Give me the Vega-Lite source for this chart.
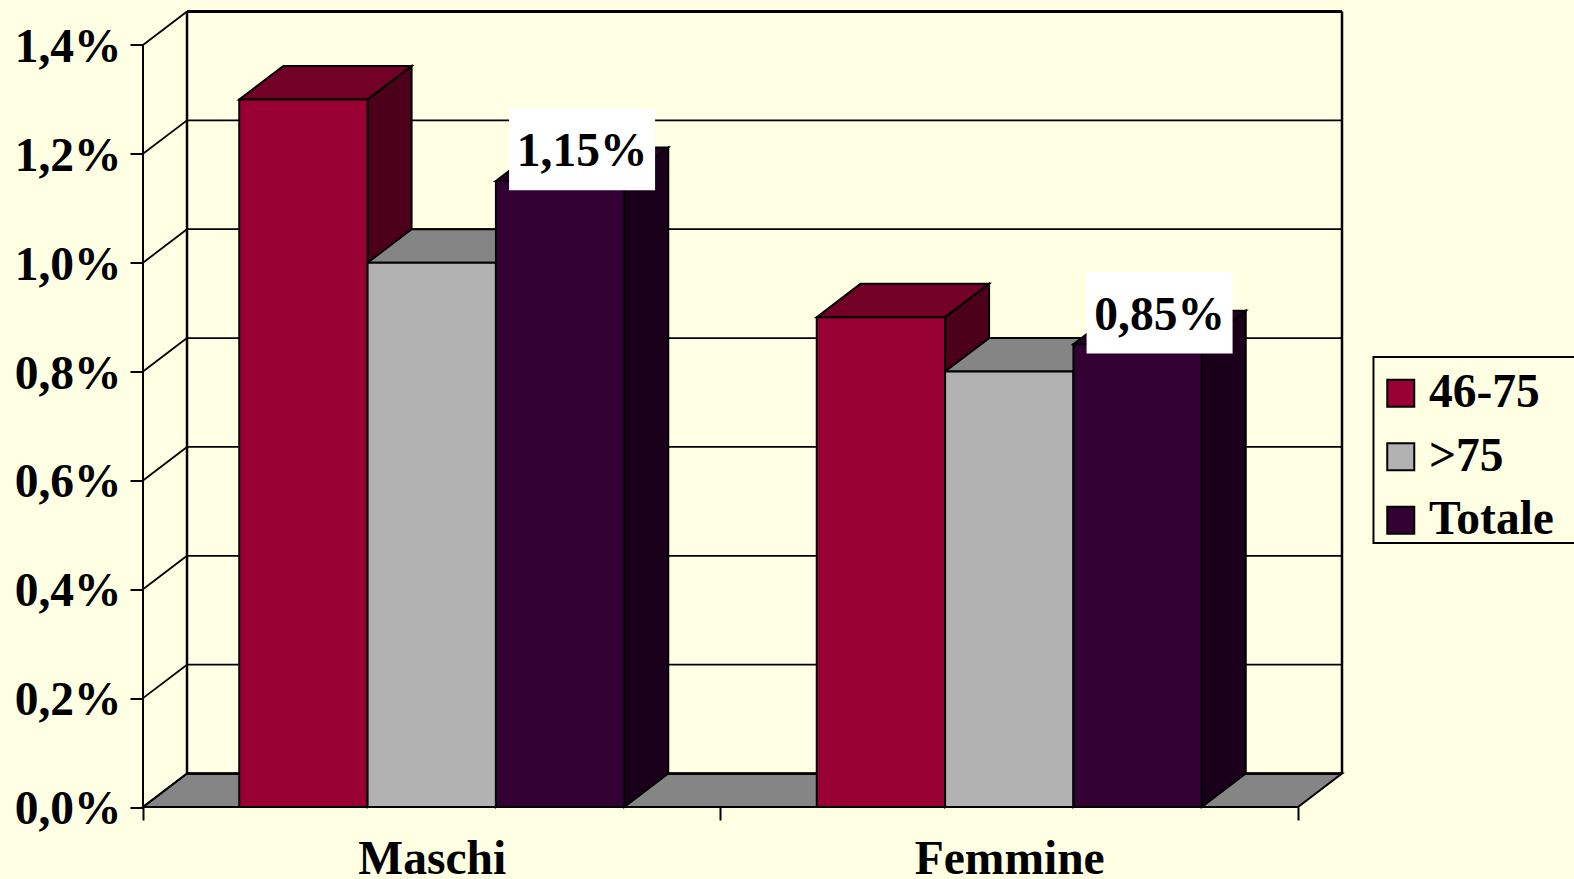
{
  "$schema": "https://vega.github.io/schema/vega-lite/v6.json",
  "width": 1199,
  "height": 795.5,
  "autosize": {"type": "none"},
  "padding": {"left": 143, "top": 11.5, "right": 232, "bottom": 72},
  "background": "#FFFFE3",
  "view": {"stroke": null},
  "params": [
    {"name": "depthX", "value": 0.0762},
    {"name": "depthY", "value": 0.0615}
  ],
  "datasets": {
    "ticks": [
      {"tick": 0}, {"tick": 0.2}, {"tick": 0.4}, {"tick": 0.6},
      {"tick": 0.8}, {"tick": 1.0}, {"tick": 1.2}, {"tick": 1.4}
    ],
    "vertices": [{"v": 0}, {"v": 1}]
  },
  "data": {
    "values": [
      {"group": "Maschi", "series": "46-75", "value": 1.3},
      {"group": "Maschi", "series": ">75", "value": 1.0},
      {"group": "Maschi", "series": "Totale", "value": 1.15},
      {"group": "Femmine", "series": "46-75", "value": 0.9},
      {"group": "Femmine", "series": ">75", "value": 0.8},
      {"group": "Femmine", "series": "Totale", "value": 0.85}
    ]
  },
  "transform": [
    {"calculate": "datum.group === 'Maschi' ? 0 : 1", "as": "g"},
    {"calculate": "indexof(['46-75', '>75', 'Totale'], datum.series)", "as": "s"},
    {"calculate": "datum.g + 1 / 6 + datum.s * 2 / 9", "as": "x0"},
    {"calculate": "datum.x0 + 2 / 9", "as": "x1"}
  ],
  "layer": [
    {
      "data": {"name": "vertices"},
      "transform": [
        {"calculate": "datum.v * depthY", "as": "fy"},
        {"calculate": "datum.v * depthX", "as": "fa"},
        {"calculate": "2 + datum.v * depthX", "as": "fb"}
      ],
      "mark": {"type": "area", "orient": "horizontal", "fill": "#858585", "stroke": "black", "strokeWidth": 2},
      "encoding": {
        "y": {
          "field": "fy", "type": "quantitative",
          "scale": {"domain": [0, 1.4615], "nice": false, "zero": false},
          "axis": {
            "values": [0, 0.2, 0.4, 0.6, 0.8, 1.0, 1.2, 1.4],
            "title": null, "domain": false, "grid": false,
            "tickSize": 13, "tickWidth": 2, "tickColor": "black",
            "labelPadding": 9, "labelOffset": 2.5,
            "labelFont": "Liberation Serif", "labelFontWeight": "bold", "labelFontSize": 47.5, "labelColor": "black",
            "labelOverlap": false, "labelBound": false, "labelFlush": false,
            "labelExpr": "replace(format(datum.value, '.1f'), '.', ',') + '%'"
          }
        },
        "x": {
          "field": "fa", "type": "quantitative",
          "scale": {"domain": [0, 2.0762], "nice": false, "zero": false},
          "axis": {
            "values": [0, 0.5, 1, 1.5, 2],
            "title": null, "domain": false, "grid": false,
            "tickSize": 13, "tickWidth": 2,
            "tickColor": {"condition": {"test": "datum.value % 1 === 0", "value": "black"}, "value": "transparent"},
            "labelPadding": 15, "labelLimit": 400,
            "labelFont": "Liberation Serif", "labelFontWeight": "bold", "labelFontSize": 47.5, "labelColor": "black",
            "labelOverlap": false, "labelBound": false, "labelFlush": false,
            "labelExpr": "datum.value === 0.5 ? 'Maschi' : datum.value === 1.5 ? 'Femmine' : ''"
          }
        },
        "x2": {"field": "fb"}
      }
    },
    {
      "data": {"name": "ticks"},
      "transform": [
        {"filter": "datum.tick > 0"},
        {"calculate": "datum.tick + depthY", "as": "backY"},
        {"calculate": "depthX", "as": "backA"},
        {"calculate": "2 + depthX", "as": "backB"}
      ],
      "mark": {"type": "rule", "color": "black", "strokeWidth": 1.8},
      "encoding": {
        "x": {"field": "backA", "type": "quantitative", "axis": {"title": null}},
        "x2": {"field": "backB"},
        "y": {"field": "backY", "type": "quantitative", "axis": {"title": null}}
      }
    },
    {
      "data": {"name": "ticks"},
      "transform": [
        {"calculate": "datum.tick + depthY", "as": "backY"},
        {"calculate": "0", "as": "frontX"},
        {"calculate": "depthX", "as": "backX"}
      ],
      "mark": {"type": "rule", "color": "black", "strokeWidth": 1.8},
      "encoding": {
        "x": {"field": "frontX", "type": "quantitative", "axis": {"title": null}},
        "x2": {"field": "backX"},
        "y": {"field": "tick", "type": "quantitative", "axis": {"title": null}},
        "y2": {"field": "backY"}
      }
    },
    {
      "data": {"name": "ticks"},
      "transform": [
        {"filter": "datum.tick === 0 || datum.tick === 1.4"},
        {"calculate": "datum.tick + depthY", "as": "backY"},
        {"calculate": "depthX", "as": "backA"},
        {"calculate": "2 + depthX", "as": "backB"}
      ],
      "mark": {"type": "rule", "color": "black", "strokeWidth": 2.8},
      "encoding": {
        "x": {"field": "backA", "type": "quantitative", "axis": {"title": null}},
        "x2": {"field": "backB"},
        "y": {"field": "backY", "type": "quantitative", "axis": {"title": null}}
      }
    },
    {
      "data": {"values": [{"corner": 0}, {"corner": 2}]},
      "transform": [
        {"calculate": "datum.corner + depthX", "as": "wallX"},
        {"calculate": "depthY", "as": "wallBottom"},
        {"calculate": "1.4 + depthY", "as": "wallTop"}
      ],
      "mark": {"type": "rule", "color": "black", "strokeWidth": 2.5},
      "encoding": {
        "x": {"field": "wallX", "type": "quantitative", "axis": {"title": null}},
        "y": {"field": "wallBottom", "type": "quantitative", "axis": {"title": null}},
        "y2": {"field": "wallTop"}
      }
    },
    {
      "transform": [
        {"calculate": "[0, 1]", "as": "v"},
        {"flatten": ["v"]},
        {"calculate": "datum.x1 + datum.v * depthX", "as": "sideX"},
        {"calculate": "datum.value + datum.v * depthY", "as": "sideTop"},
        {"calculate": "datum.v * depthY", "as": "sideBottom"}
      ],
      "mark": {"type": "area", "stroke": "black", "strokeWidth": 2},
      "encoding": {
        "x": {"field": "sideX", "type": "quantitative", "axis": {"title": null}},
        "y": {"field": "sideTop", "type": "quantitative", "axis": {"title": null}},
        "y2": {"field": "sideBottom"},
        "detail": {"field": "group"},
        "fill": {
          "field": "series", "type": "nominal", "legend": null,
          "scale": {"domain": ["46-75", ">75", "Totale"], "range": ["#4D001A", "#595959", "#1A001A"]}
        }
      }
    },
    {
      "transform": [
        {"calculate": "[0, 1]", "as": "v"},
        {"flatten": ["v"]},
        {"calculate": "datum.value + datum.v * depthY", "as": "topY"},
        {"calculate": "datum.x0 + datum.v * depthX", "as": "topA"},
        {"calculate": "datum.x1 + datum.v * depthX", "as": "topB"}
      ],
      "mark": {"type": "area", "orient": "horizontal", "stroke": "black", "strokeWidth": 2},
      "encoding": {
        "y": {"field": "topY", "type": "quantitative", "axis": {"title": null}},
        "x": {"field": "topA", "type": "quantitative", "axis": {"title": null}},
        "x2": {"field": "topB"},
        "detail": {"field": "group"},
        "fill": {
          "field": "series", "type": "nominal", "legend": null,
          "scale": {"domain": ["46-75", ">75", "Totale"], "range": ["#730026", "#858585", "#260026"]}
        }
      }
    },
    {
      "transform": [{"calculate": "0", "as": "base"}],
      "mark": {"type": "rect", "stroke": "black", "strokeWidth": 2},
      "encoding": {
        "x": {"field": "x0", "type": "quantitative", "axis": {"title": null}},
        "x2": {"field": "x1"},
        "y": {"field": "value", "type": "quantitative", "axis": {"title": null}},
        "y2": {"field": "base"},
        "fill": {
          "field": "series", "type": "nominal",
          "scale": {"domain": ["46-75", ">75", "Totale"], "range": ["#990033", "#B2B2B2", "#330033"]},
          "legend": {
            "orient": "none", "legendX": 1230, "legendY": 345.5,
            "title": " ", "titleFontSize": 8.5, "titlePadding": 0,
            "padding": 4,
            "symbolType": "square", "symbolSize": 729, "symbolStrokeColor": "black", "symbolStrokeWidth": 2,
            "labelFont": "Liberation Serif", "labelFontWeight": "bold", "labelFontSize": 47.5, "labelColor": "black",
            "labelOffset": 4.5, "rowPadding": 14.5, "labelLimit": 400
          }
        }
      }
    },
    {
      "data": {"values": [{"frame": "legend"}]},
      "transform": [
        {"calculate": "2.1307", "as": "frameLeft"},
        {"calculate": "2.5", "as": "frameRight"},
        {"calculate": "0.485", "as": "frameBottom"},
        {"calculate": "0.8268", "as": "frameTop"}
      ],
      "mark": {"type": "rect", "fill": "transparent", "stroke": "black", "strokeWidth": 2},
      "encoding": {
        "x": {"field": "frameLeft", "type": "quantitative", "axis": {"title": null}},
        "x2": {"field": "frameRight"},
        "y": {"field": "frameBottom", "type": "quantitative", "axis": {"title": null}},
        "y2": {"field": "frameTop"}
      }
    },
    {
      "data": {"values": [{"axisEnd": 1.4}]},
      "transform": [{"calculate": "0", "as": "origin"}],
      "mark": {"type": "rule", "color": "black", "strokeWidth": 2},
      "encoding": {
        "x": {"field": "origin", "type": "quantitative", "axis": {"title": null}},
        "y": {"field": "origin", "type": "quantitative", "axis": {"title": null}},
        "y2": {"field": "axisEnd"}
      }
    },
    {
      "data": {"values": [{"axisEnd": 2}]},
      "transform": [{"calculate": "0", "as": "origin"}],
      "mark": {"type": "rule", "color": "black", "strokeWidth": 2},
      "encoding": {
        "x": {"field": "origin", "type": "quantitative", "axis": {"title": null}},
        "x2": {"field": "axisEnd"},
        "y": {"field": "origin", "type": "quantitative", "axis": {"title": null}}
      }
    },
    {
      "transform": [
        {"filter": "datum.series === 'Totale'"},
        {"calculate": "(datum.x0 + datum.x1) / 2 + depthX / 2", "as": "labelX"},
        {"calculate": "datum.value + depthY / 2 + 0.0275", "as": "labelY"},
        {"calculate": "datum.labelX - 0.1264", "as": "boxLeft"},
        {"calculate": "datum.labelX + 0.1264", "as": "boxRight"},
        {"calculate": "datum.labelY - 0.0753", "as": "boxBottom"},
        {"calculate": "datum.labelY + 0.0753", "as": "boxTop"}
      ],
      "mark": {"type": "rect", "fill": "white"},
      "encoding": {
        "x": {"field": "boxLeft", "type": "quantitative", "axis": {"title": null}},
        "x2": {"field": "boxRight"},
        "y": {"field": "boxBottom", "type": "quantitative", "axis": {"title": null}},
        "y2": {"field": "boxTop"}
      }
    },
    {
      "transform": [
        {"filter": "datum.series === 'Totale'"},
        {"calculate": "(datum.x0 + datum.x1) / 2 + depthX / 2", "as": "labelX"},
        {"calculate": "datum.value + depthY / 2", "as": "labelY"},
        {"calculate": "replace(format(datum.value, '.2f'), '.', ',') + '%'", "as": "labelText"}
      ],
      "mark": {"type": "text", "font": "Liberation Serif", "fontWeight": "bold", "fontSize": 47.5, "color": "black", "align": "center", "baseline": "alphabetic", "dy": 2},
      "encoding": {
        "x": {"field": "labelX", "type": "quantitative", "axis": {"title": null}},
        "y": {"field": "labelY", "type": "quantitative", "axis": {"title": null}},
        "text": {"field": "labelText", "type": "nominal"}
      }
    }
  ],
  "resolve": {"scale": {"fill": "independent"}}
}
